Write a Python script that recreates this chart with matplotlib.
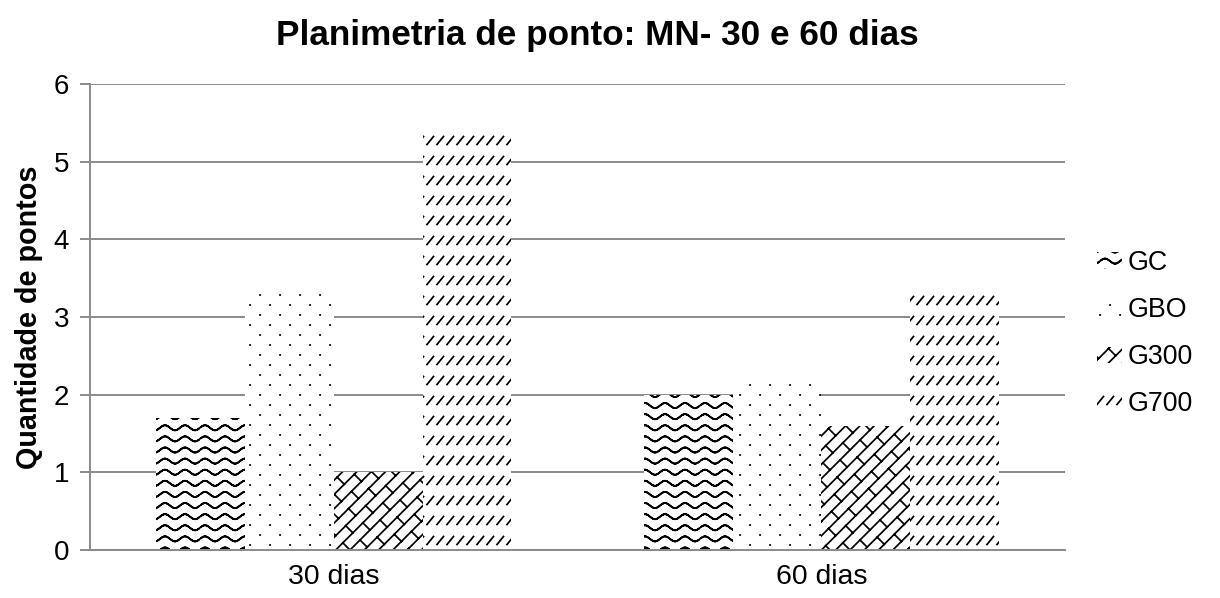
import warnings
import numpy as np
import matplotlib
matplotlib.use('Agg')
import matplotlib.pyplot as plt
from matplotlib import hatch as mhatch
from matplotlib.path import Path

warnings.filterwarnings('ignore')

# data
categories = ['30 dias', '60 dias']
groups = ['GC', 'GBO', 'G300', 'G700']
gc_vals = [1.7, 2.0]
gbo_vals = [3.35, 2.2]
g300_vals = [1.0, 1.6]
g700_vals = [5.35, 3.4]
yticks = [0, 1, 2, 3, 4, 5, 6]


# custom hatch patterns (tile = 1x1 unit, drawn as separate segments)
class SegHatch(mhatch.HatchPatternBase):
    char = None

    def __init__(self, hatch, density):
        self.segs = self.make_segs() if (hatch and self.char in hatch) else []
        self.num_vertices = 2 * len(self.segs)

    def make_segs(self):
        return []

    def set_vertices_and_codes(self, vertices, codes):
        for i, (p, q) in enumerate(self.segs):
            vertices[2 * i] = p
            vertices[2 * i + 1] = q
            codes[2 * i] = Path.MOVETO
            codes[2 * i + 1] = Path.LINETO


class WaveHatch(SegHatch):
    char = '~'

    def make_segs(self):
        segs = []
        xs = np.linspace(0, 1, 81)
        for r in range(9):
            y0 = (r + 0.5) / 9
            ys = y0 + 0.025 * np.sin(2 * np.pi * 5 * xs)
            for i in range(len(xs) - 1):
                segs.append(((xs[i], ys[i]), (xs[i + 1], ys[i + 1])))
        return segs


class DotHatch(SegHatch):
    char = ':'

    def make_segs(self):
        segs = []
        for r in range(10):
            y = (r + 0.5) / 10
            off = 0.1 if r % 2 else 0.0
            for c in range(6):
                x = c / 5 + off
                segs.append(((x, y), (x + 0.002, y)))
        return segs


class BrickHatch(SegHatch):
    char = '#'

    def make_segs(self):
        segs = []
        n, m = 7, 5
        for k in range(-n, n + 1):
            c = k / n
            segs.append(((c - 0.05, -0.05), (c + 1.05, 1.05)))
            off = (k * (0.5 / m - 0.5 / n)) % (1 / m)
            for j in range(-1, m + 2):
                t = j / m + off
                segs.append(((t + c, t), (t + c + 0.5 / n, t - 0.5 / n)))
        return segs


class DashHatch(SegHatch):
    char = '='

    def make_segs(self):
        segs = []
        for r in range(-1, 6):
            y = r / 5 + 0.155
            for c in range(11):
                x = c / 10 - 0.03
                segs.append(((x, y), (x + 0.065, y + 0.08)))
        return segs


mhatch._hatch_types.extend([WaveHatch, DotHatch, BrickHatch, DashHatch])

plt.rcParams['font.family'] = ['Liberation Sans', 'DejaVu Sans']
plt.rcParams['hatch.color'] = 'black'
plt.rcParams['hatch.linewidth'] = 1.25

fig = plt.figure(figsize=(12.2, 5.98), dpi=100)
ax = fig.add_axes([0.0738, 0.0803, 0.873 - 0.0738, 0.8595 - 0.0803])

series = [gc_vals, gbo_vals, g300_vals, g700_vals]
hatches = ['~', ':', '#', '=']
x = np.arange(len(categories))
w = 0.182
for i, (vals, h) in enumerate(zip(series, hatches)):
    ax.bar(x + (i - 1.5) * w, vals, w, facecolor='white', hatch=h,
           linewidth=0, label=groups[i], zorder=2)

ax.set_xlim(-0.5, 1.5)
ax.set_ylim(0, 6)
ax.set_yticks(yticks)
ax.set_xticks(x)
ax.set_xticklabels(categories, fontsize=20.4)
ax.tick_params(axis='y', labelsize=20, length=7, width=1.4, color='#8a8a8a', pad=8)
ax.tick_params(axis='x', length=0, pad=10)

ax.yaxis.grid(True, color='#8a8a8a', linewidth=1.4)
ax.set_axisbelow(True)
for s in ['top', 'right']:
    ax.spines[s].set_visible(False)
for s in ['left', 'bottom']:
    ax.spines[s].set_color('#8a8a8a')
    ax.spines[s].set_linewidth(1.4)

ax.set_ylabel('Quantidade de pontos', fontsize=20.7, fontweight='bold', labelpad=8)
fig.suptitle('Planimetria de ponto: MN- 30 e 60 dias', fontsize=25.3,
             fontweight='bold', x=0.49, y=0.968)

fig.legend(loc='center left', bbox_to_anchor=(0.888, 0.442), frameon=False,
           fontsize=19.3, handlelength=0.95, handleheight=0.55,
           handletextpad=0.2, labelspacing=0.79, borderpad=0)

fig.savefig('out.png', dpi=100)
